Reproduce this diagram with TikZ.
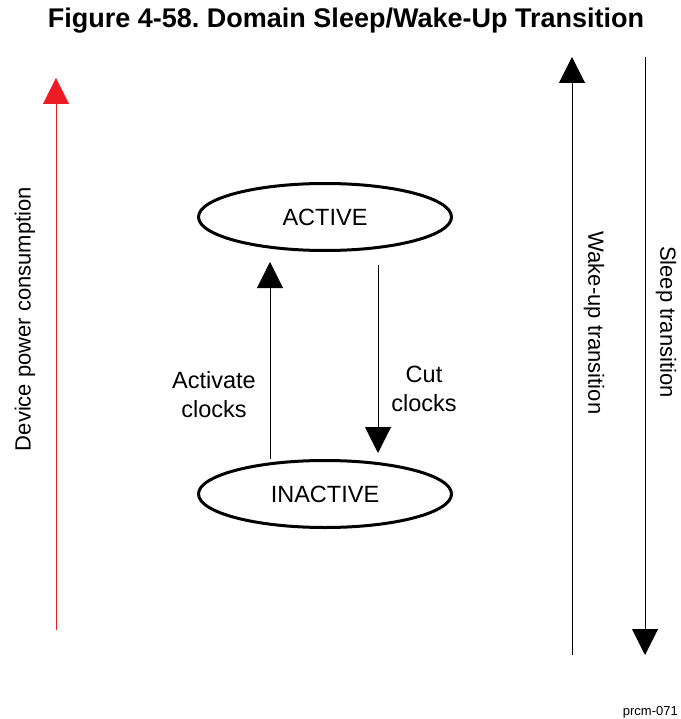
\documentclass[tikz,border=0pt]{standalone}
\usepackage{fontspec}
\setmainfont{Liberation Sans}
\usepackage{xcolor}
\definecolor{powred}{RGB}{237,28,36}
\usepackage{tikz}
\usetikzlibrary{arrows.meta,shapes.geometric,positioning}

\begin{document}
\begin{tikzpicture}[x=1pt,y=-1pt,
    state/.style={ellipse,draw,line width=3pt,minimum width=253pt,minimum height=67pt,inner sep=0pt,
      font=\fontsize{23.5}{28}\selectfont},
    flow/.style={line width=1pt,-{Triangle[width=26pt,length=26pt]}},
    lbl/.style={align=center,font=\fontsize{23.5}{29}\selectfont}]
        % Frame
        \useasboundingbox (0,0) rectangle (680,719);
        % Parameters
        \def\cx{325}
        \def\upx{270}
        \def\dnx{378}
        % Title
        \node (title) at (346,21) {\fontsize{27}{32}\selectfont\bfseries Figure 4-58.\ Domain Sleep/Wake-Up Transition};
        % States
        \node[state] (active) at (\cx,217) {ACTIVE};
        \node[state] (inactive) at (\cx,494) {INACTIVE};
        \coordinate (upcol) at (\upx,0);
        \coordinate (dncol) at (\dnx,0);
        \draw[flow,shorten >=10pt] (inactive.north -| upcol) -- (active.south -| upcol);
        \draw[flow,shorten <=13pt,shorten >=6pt] (active.south -| dncol) -- (inactive.north -| dncol);
        \node[lbl] (act) at (214,395) {Activate\\clocks};
        \node[lbl] (cut) at (424,389) {Cut\\clocks};
        % Power axis
        \coordinate (powlo) at (56,630);
        \coordinate (powhi) at (56,78);
        \draw[flow,powred] (powlo) -- (powhi);
        \node[rotate=90,font=\fontsize{22}{26}\selectfont] (pow) at (25,319) {Device power consumption};
        % Wake-up and sleep
        \coordinate (wakelo) at (572,655);
        \coordinate (wakehi) at (572,57);
        \coordinate (sleephi) at (645,57);
        \coordinate (sleeplo) at (645,655);
        \draw[flow] (wakelo) -- (wakehi);
        \draw[flow] (sleephi) -- (sleeplo);
        \node[rotate=-90,font=\fontsize{22}{26}\selectfont] (wake) at (594,323) {Wake-up transition};
        \node[rotate=-90,font=\fontsize{22}{26}\selectfont] (sleep) at (666,322) {Sleep transition};
        % Tag
        \node[anchor=east,font=\fontsize{13}{15}\selectfont,inner sep=0pt] (tag) at (678,712) {prcm-071};
    \end{tikzpicture}
\end{document}
